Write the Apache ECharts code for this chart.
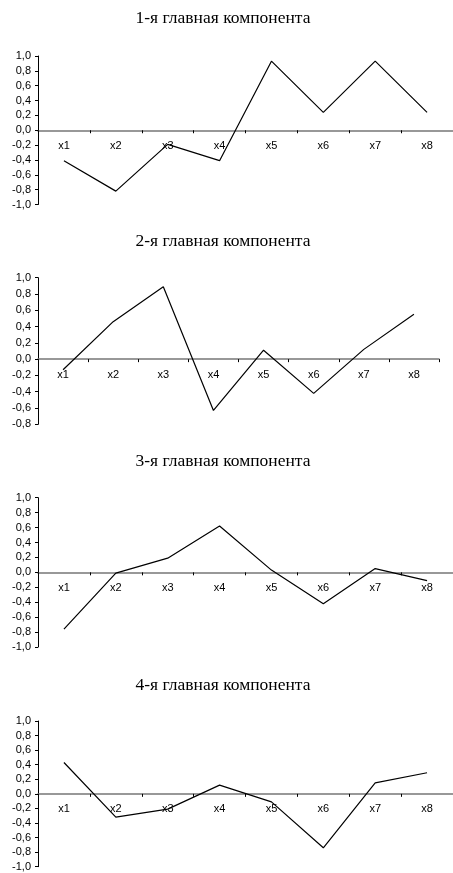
<!DOCTYPE html>
<html>
<head>
<meta charset="utf-8">
<script src="https://cdn.jsdelivr.net/npm/echarts@6/dist/echarts.min.js"></script>
<style>
html,body{margin:0;padding:0;background:#fff;}
#chart{width:453px;height:873px;}
</style>
</head>
<body>
<div id="chart"></div>
<script>
var categories = ['x1','x2','x3','x4','x5','x6','x7','x8'];
var titles = ['1-я главная компонента','2-я главная компонента','3-я главная компонента','4-я главная компонента'];
var pc1 = [-0.41, -0.82, -0.19, -0.41, 0.93, 0.24, 0.93, 0.24];
var pc2 = [-0.13, 0.46, 0.89, -0.63, 0.11, -0.42, 0.12, 0.55];
var pc3 = [-0.76, -0.01, 0.19, 0.62, 0.03, -0.42, 0.05, -0.11];
var pc4 = [0.43, -0.32, -0.21, 0.12, -0.11, -0.74, 0.15, 0.29];
var yMins = [-1.0, -0.8, -1.0, -1.0];
var yMax = 1.0;
var yStep = 0.2;

var seriesData = [pc1, pc2, pc3, pc4];
var grids = [
  {left: 38, top: 56, width: 415, height: 148.5},
  {left: 38, top: 277.7, width: 401, height: 146.6},
  {left: 38, top: 497.7, width: 415, height: 149.3},
  {left: 38, top: 721, width: 415, height: 145.7}
];
var titleTops = [9, 232.5, 452, 676];

function fmt(v){
  if (Math.abs(v) < 1e-9) return '0,0';
  return v.toFixed(1).replace('.', ',');
}

var option = {
  animation: false,
  backgroundColor: '#fff',
  title: titles.map(function(t, i){
    return {
      text: t, left: 223, top: titleTops[i], padding: 0,
      textAlign: 'center',
      textStyle: {fontFamily: 'Liberation Serif', fontSize: 17.5, fontWeight: 'normal', color: '#000'}
    };
  }),
  grid: grids,
  xAxis: grids.map(function(g, i){
    // place the category axis on the zero line of the value axis
    var zeroOffset = -g.height * (0 - yMins[i]) / (yMax - yMins[i]);
    return {
      type: 'category', gridIndex: i, data: categories, boundaryGap: true,
      position: 'bottom', offset: zeroOffset,
      axisLine: {onZero: false, lineStyle: {color: '#777', width: 1.5}},
      axisTick: {show: true, inside: false, length: 3, lineStyle: {color: '#000'}},
      axisLabel: {margin: 10, fontFamily: 'Liberation Sans', fontSize: 11, color: '#000'},
      splitLine: {show: false}
    };
  }),
  yAxis: grids.map(function(g, i){
    return {
      type: 'value', gridIndex: i, min: yMins[i], max: yMax, interval: yStep,
      axisLine: {show: true, onZero: false, lineStyle: {color: '#000', width: 1}},
      axisTick: {show: true, length: 3, lineStyle: {color: '#000'}},
      axisLabel: {margin: 7, fontFamily: 'Liberation Sans', fontSize: 11, color: '#000', formatter: fmt},
      splitLine: {show: false}
    };
  }),
  series: seriesData.map(function(d, i){
    return {
      type: 'line', xAxisIndex: i, yAxisIndex: i, data: d,
      symbol: 'none', lineStyle: {color: '#000', width: 1.2}
    };
  })
};
var chart = echarts.init(document.getElementById('chart'), null, {renderer: 'canvas'});
chart.setOption(option);
</script>
</body>
</html>
